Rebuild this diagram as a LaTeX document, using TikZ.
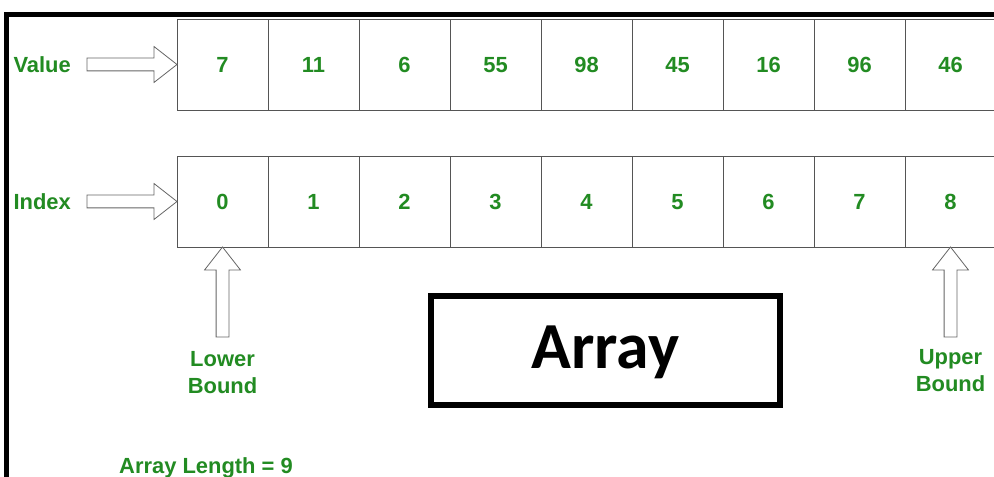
\documentclass[tikz,border=0pt]{standalone}
\usepackage{fontspec}
\setmainfont{Liberation Sans}
\newfontfamily\arrayfont{Carlito}
\usetikzlibrary{positioning,shapes.arrows}
\definecolor{GfgGreen}{HTML}{228B22}
\definecolor{LineGray}{HTML}{555555}
\definecolor{ArrowGray}{HTML}{666666}

\begin{document}
\begin{tikzpicture}[x=1bp, y=-1bp, every node/.style={font=\fontsize{22}{27}\selectfont\bfseries, text=GfgGreen}, cell/.style={draw=LineGray, line width=0.9pt, minimum size=91bp, inner sep=0pt, outer sep=0pt, text height=16bp, text depth=0pt}, barrow/.style={single arrow, draw=ArrowGray, line width=0.8pt, fill=white, minimum height=90bp, inner sep=6bp, single arrow head extend=11.5bp, single arrow tip angle=76, outer sep=0pt}, lbl/.style={align=center, inner sep=0pt}]
\clip (0,0) rectangle (994,477);
\fill[white] (0,0) rectangle (994,477);
\draw[line width=5bp] (6.5,600) -- (6.5,14.5) -- (1100,14.5);
% value and index cells
\foreach \v [count=\i from 0] in {7,11,6,55,98,45,16,96,46}{\node[cell] (v\i) at ({222.5+91*\i},64.5) {\v};}
\foreach \i in {0,...,8}{\node[cell] (i\i) at ({222.5+91*\i},201.5) {\i};}
% pointers
\node[barrow, anchor=tip] (va) at (v0.west) {};
\node[lbl, left=16bp of va.tail] (vl) {Value};
\node[barrow, anchor=tip] (ia) at (i0.west) {};
\node[lbl, left=16bp of ia.tail] (il) {Index};
\node[barrow, rotate=90, anchor=tip] (la) at (i0.south) {};
\node[lbl, below=14bp of la.tail] (ll) {Lower\\Bound};
\node[barrow, rotate=90, anchor=tip] (ua) at (i8.south) {};
\node[lbl, below=12bp of ua.tail] (ul) {Upper\\Bound};
% title and length
\node[draw=black, line width=6bp, minimum width=349bp, minimum height=109bp, text height=43bp, text depth=8bp, font=\arrayfont\fontsize{66}{72}\selectfont\bfseries, text=black] (arr) at (605.5,350.5) {Array};
\node[lbl, anchor=base] (len) at (206,473) {Array Length = 9};
\end{tikzpicture}
\end{document}
